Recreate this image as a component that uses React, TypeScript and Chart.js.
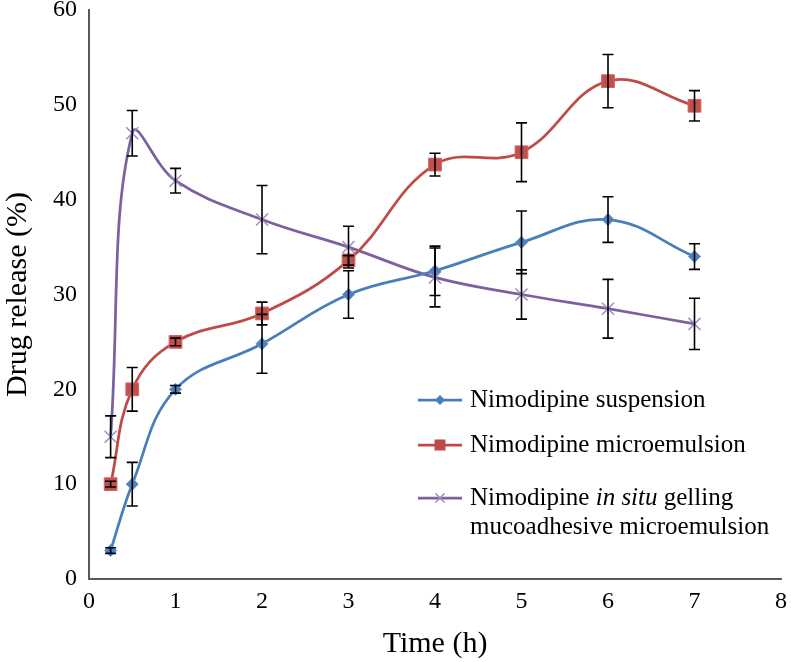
import React, { useEffect, useRef } from "react";
import { Chart, registerables } from "chart.js";

Chart.register(...registerables);

const times = [0.25, 0.5, 1, 2, 3, 4, 5, 6, 7];
const suspension = [3, 10, 20, 24.8, 30, 32.5, 35.5, 37.9, 34];
const microemulsion = [10, 20, 25, 28, 33.6, 43.7, 45, 52.5, 49.9];
const inSitu = [15, 47, 42, 37.9, 35, 31.8, 30, 28.5, 26.9];

const suspensionErr = [0.3, 2.3, 0.4, 3.1, 2.5, 2.6, 3.3, 2.4, 1.35];
const microemulsionErr = [0.3, 2.3, 0.4, 1.2, 0.5, 1.2, 3.1, 2.8, 1.6];
const inSituErr = [2.2, 2.4, 1.3, 3.6, 2.2, 3.1, 2.6, 3.1, 2.7];

const seriesNames = [
  "Nimodipine suspension",
  "Nimodipine microemulsion",
  "Nimodipine in situ gelling mucoadhesive microemulsion",
];

const xTicks = [0, 1, 2, 3, 4, 5, 6, 7, 8];
const yTicks = [0, 10, 20, 30, 40, 50, 60];

const BLUE = "#4A7EBB";
const RED = "#BE4B48";
const PURPLE = "#7D60A0";
const FONT = '"Liberation Serif", "Times New Roman", serif';

export default function App() {
  const ref = useRef<HTMLCanvasElement>(null);

  useEffect(() => {
    const canvas = ref.current;
    if (!canvas) return;

    const allSeries = [suspension, microemulsion, inSitu];
    const allErr = [suspensionErr, microemulsionErr, inSituErr];

    const errorBars = {
      id: "errorBars",
      afterDatasetsDraw(chart: any) {
        const { ctx } = chart;
        const x = chart.scales.x;
        const y = chart.scales.y;
        ctx.save();
        ctx.strokeStyle = "#000";
        ctx.lineWidth = 1.6;
        allSeries.forEach((data, di) => {
          const errs = allErr[di];
          times.forEach((t, i) => {
            const px = x.getPixelForValue(t);
            const top = y.getPixelForValue(data[i] + errs[i]);
            const bot = y.getPixelForValue(data[i] - errs[i]);
            const c = 5.5;
            ctx.beginPath();
            ctx.moveTo(px, top);
            ctx.lineTo(px, bot);
            ctx.moveTo(px - c, top);
            ctx.lineTo(px + c, top);
            ctx.moveTo(px - c, bot);
            ctx.lineTo(px + c, bot);
            ctx.stroke();
          });
        });
        ctx.restore();
      },
    };

    const legendPlugin = {
      id: "customLegend",
      afterDraw(chart: any) {
        const { ctx } = chart;
        ctx.save();
        const x0 = 418;
        const x1 = 462;
        const xm = (x0 + x1) / 2;
        const tx = 470;
        const rows = [400, 445, 498];
        const colors = [BLUE, RED, PURPLE];
        rows.forEach((ry, i) => {
          ctx.strokeStyle = colors[i];
          ctx.lineWidth = 2.75;
          ctx.beginPath();
          ctx.moveTo(x0, ry);
          ctx.lineTo(x1, ry);
          ctx.stroke();
          ctx.fillStyle = colors[i];
          if (i === 0) {
            const r = 5;
            ctx.beginPath();
            ctx.moveTo(xm, ry - r);
            ctx.lineTo(xm + r, ry);
            ctx.lineTo(xm, ry + r);
            ctx.lineTo(xm - r, ry);
            ctx.closePath();
            ctx.fill();
          } else if (i === 1) {
            const h = 5.5;
            ctx.fillRect(xm - h, ry - h, 2 * h, 2 * h);
          } else {
            const h = 4.5;
            ctx.strokeStyle = "#A08CC0";
            ctx.lineWidth = 1.5;
            ctx.beginPath();
            ctx.moveTo(xm - h, ry - h);
            ctx.lineTo(xm + h, ry + h);
            ctx.moveTo(xm + h, ry - h);
            ctx.lineTo(xm - h, ry + h);
            ctx.stroke();
          }
        });
        ctx.fillStyle = "#000";
        ctx.textBaseline = "middle";
        ctx.textAlign = "left";
        const normal = "25px " + FONT;
        const italic = "italic 25px " + FONT;
        ctx.font = normal;
        ctx.fillText(seriesNames[0], tx, rows[0]);
        ctx.fillText(seriesNames[1], tx, rows[1]);
        const parts: [string, string][] = [
          ["Nimodipine ", normal],
          ["in situ", italic],
          [" gelling", normal],
        ];
        let cx = tx;
        parts.forEach(([s, f]) => {
          ctx.font = f;
          ctx.fillText(s, cx, rows[2]);
          cx += ctx.measureText(s).width;
        });
        ctx.font = normal;
        ctx.fillText("mucoadhesive microemulsion", tx, rows[2] + 29);
        ctx.restore();
      },
    };

    const chart = new Chart(canvas, {
      type: "line",
      data: {
        datasets: [
          {
            label: seriesNames[0],
            data: times.map((t, i) => ({ x: t, y: suspension[i] })),
            borderColor: BLUE,
            backgroundColor: BLUE,
            borderWidth: 2.75,
            pointStyle: "rectRot",
            pointRadius: 6,
            pointBorderWidth: 1,
            pointBorderColor: "#5B8FD0",
            pointBackgroundColor: "#4F81BD",
            tension: 0.4,
          },
          {
            label: seriesNames[1],
            data: times.map((t, i) => ({ x: t, y: microemulsion[i] })),
            borderColor: RED,
            backgroundColor: RED,
            borderWidth: 2.75,
            pointStyle: "rect",
            pointRadius: 9,
            pointBorderWidth: 1,
            pointBorderColor: "#D06460",
            pointBackgroundColor: "#C0504D",
            tension: 0.4,
          },
          {
            label: seriesNames[2],
            data: times.map((t, i) => ({ x: t, y: inSitu[i] })),
            borderColor: PURPLE,
            backgroundColor: PURPLE,
            borderWidth: 2.75,
            pointStyle: "crossRot",
            pointRadius: 8.5,
            pointBorderWidth: 1.5,
            pointBorderColor: "#A08CC0",
            tension: 0.4,
          },
        ],
      },
      options: {
        responsive: false,
        animation: false,
        layout: { padding: { left: 0, right: 4, top: 7.5, bottom: 0 } },
        plugins: {
          legend: { display: false },
          tooltip: { enabled: false },
          title: { display: false },
        },
        scales: {
          x: {
            type: "linear",
            min: xTicks[0],
            max: xTicks[xTicks.length - 1],
            afterBuildTicks(scale: any) {
              scale.ticks = xTicks.map((v) => ({ value: v }));
            },
            afterFit(scale: any) {
              scale.height = 83;
              scale.paddingLeft = 0;
              scale.paddingRight = 0;
            },
            grid: { display: false, drawTicks: false },
            border: { display: true, color: "#595959", width: 2 },
            ticks: {
              color: "#000",
              font: { family: FONT, size: 24 },
              padding: 8,
              maxRotation: 0,
              autoSkip: false,
            },
            title: {
              display: true,
              text: "Time (h)",
              color: "#000",
              font: { family: FONT, size: 30 },
              padding: { top: 0, bottom: 0 },
            },
          },
          y: {
            type: "linear",
            min: yTicks[0],
            max: yTicks[yTicks.length - 1],
            afterBuildTicks(scale: any) {
              scale.ticks = yTicks.map((v) => ({ value: v }));
            },
            afterFit(scale: any) {
              scale.width = 89;
              scale.paddingTop = 0;
              scale.paddingBottom = 0;
            },
            grid: { display: false, drawTicks: false },
            border: { display: true, color: "#595959", width: 2 },
            ticks: {
              color: "#000",
              font: { family: FONT, size: 24 },
              padding: 12,
            },
            title: {
              display: true,
              text: "Drug release (%)",
              color: "#000",
              font: { family: FONT, size: 30 },
              padding: { top: 0, bottom: 0 },
            },
          },
        },
      },
      plugins: [errorBars, legendPlugin],
    } as any);

    return () => chart.destroy();
  }, []);

  return (
    <div style={{ position: "absolute", left: 0, top: 0, width: 791, height: 662, background: "#fff" }}>
      <canvas ref={ref} width={791} height={662} style={{ width: 791, height: 662, display: "block" }} />
    </div>
  );
}
